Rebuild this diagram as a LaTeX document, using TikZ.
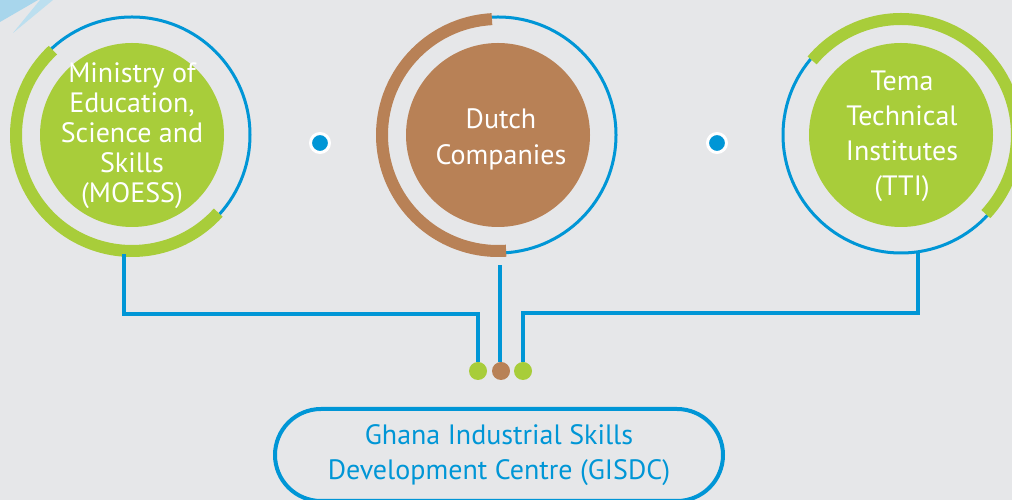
\documentclass[tikz,border=0pt]{standalone}
\usepackage{fontspec}
\setmainfont{PT Sans}
\usetikzlibrary{calc}
\definecolor{bg}{HTML}{E6E7E9}
\definecolor{cblue}{HTML}{0096D6}
\definecolor{cgreen}{HTML}{A8CD3A}
\definecolor{cbrown}{HTML}{B88156}
\definecolor{lbone}{HTML}{A8D6EC}
\definecolor{lbtwo}{HTML}{BCDFEF}
\begin{document}
\begin{tikzpicture}[x=1pt,y=1pt,
  ring/.style={circle, draw=cblue, line width=3pt, minimum size=236pt, inner sep=0pt},
  disc/.style={circle, minimum size=184pt, inner sep=0pt},
  lbl/.style={text=white, align=center, inner sep=0pt},
  conn/.style={draw=cblue, line width=4pt},
  pin/.style={circle, minimum size=18pt, inner sep=0pt},
  sepdot/.style={circle, fill=cblue, draw=white, line width=3pt, minimum size=19pt, inner sep=0pt},
  gbox/.style={draw=cblue, line width=4pt, rounded corners=46pt, minimum width=448pt, minimum height=92pt,
    text=cblue, align=center, font=\fontsize{28}{35}\selectfont}
]
\useasboundingbox (0,0) rectangle (1012,500);
\fill[bg] (0,0) rectangle (1012,500);
% top-left decorations
\fill[lbone] (0,500) -- (38,500) -- (0,478) -- cycle;
\fill[lbtwo] (40,500) -- (53,500) -- (13,467) -- cycle;

% rings
\node[ring] (r1) at (132,365) {};
\node[ring] (r2) at (498,365) {};
\node[ring] (r3) at (901,365) {};

% partial arcs
\draw[draw=cgreen, line width=12pt] (r1.center) ++(133:116) arc[start angle=133, end angle=318, radius=116];
\draw[draw=cbrown, line width=12pt] (r2.center) ++(93:116) arc[start angle=93, end angle=274, radius=116];
\draw[draw=cgreen, line width=12pt] (r3.center) ++(-43:116) arc[start angle=-43, end angle=140, radius=116];

% discs
\node[disc, fill=cgreen] (c1) at (r1.center) {};
\node[disc, fill=cbrown] (c2) at (r2.center) {};
\node[disc, fill=cgreen] (c3) at (r3.center) {};
\node[lbl, font=\fontsize{28}{30}\selectfont] (moess) at ($(c1.center)+(0,-1)$)
  {Ministry of\\Education,\\Science and\\Skills\\(MOESS)};
\node[lbl, font=\fontsize{28}{36}\selectfont] (dutch) at ($(c2.center)+(3,-4)$)
  {Dutch\\Companies};
\node[lbl, font=\fontsize{28}{35}\selectfont] (tti) at ($(c3.center)+(1,-1)$)
  {Tema\\Technical\\Institutes\\(TTI)};

% separator dots
\node[sepdot] (s1) at (320,357) {};
\node[sepdot] (s2) at (717,357) {};

% pins
\node[pin, fill=cgreen] (d1) at (478,129) {};
\node[pin, fill=cbrown] (d2) at (501,129) {};
\node[pin, fill=cgreen] (d3) at (523,129) {};

% connectors
\coordinate (m2top) at ($(r2.south)+(2,-11)$);
\draw[conn] (r1.-94) -- ++(0,-60) -| (d1.north);
\draw[conn] (m2top) -- (m2top |- d2.north);
\draw[conn] (r3.-82) -- ++(0,-60) -| (d3.north);

% bottom box
\node[gbox] (gisdc) at (499,45) {Ghana Industrial Skills\\Development Centre (GISDC)};
\end{tikzpicture}
\end{document}
